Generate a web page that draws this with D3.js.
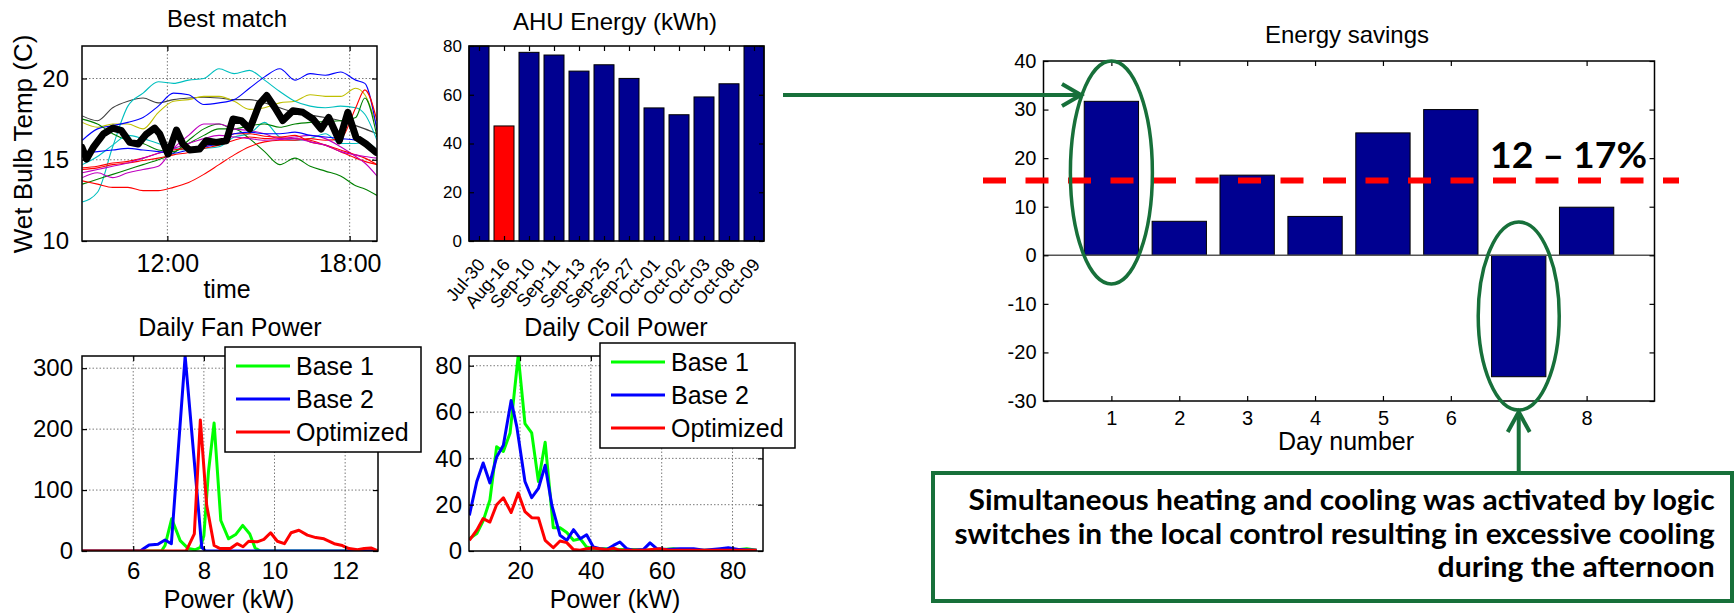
<!DOCTYPE html>
<html><head><meta charset="utf-8">
<script src="https://cdn.jsdelivr.net/npm/d3@7"></script>
<style>
body{margin:0;background:#fff;}
svg{display:block;}
</style></head><body>
<svg id="chart" width="1735" height="614"></svg>
<script>
// ---------------- DATA ----------------
// Panel 1: wet bulb temperature, candidate days (thin lines)
const wbHours   = [9.2, 9.7, 10.2, 10.7, 11.2, 11.7, 12.2, 12.7, 13.2, 13.7, 14.2, 14.7, 15.2, 15.7, 16.2, 16.7, 17.2, 17.7, 18.2, 18.5, 18.9];
const wbGray    = [17.7, 17.4, 18.2, 18.6, 18.8, 18.5, 18.7, 18.8, 18.85, 18.8, 18.7, 18.7, 18.5, 18.2, 17.9, 17.75, 17.6, 17.4, 17.1, 16.9, 16.6];
const wbYellow  = [17.3, 17.0, 17.2, 17.2, 16.9, 17.9, 18.6, 18.7, 18.9, 18.9, 18.6, 18.1, 18.2, 18.5, 18.6, 19.0, 18.9, 18.9, 19.4, 19.0, 17.0];
const wbBlue1   = [16.2, 16.9, 17.1, 17.3, 17.6, 18.3, 19.1, 19.0, 18.4, 18.5, 18.7, 19.4, 20.1, 20.6, 19.9, 20.3, 20.2, 20.4, 19.9, 19.7, 16.8];
const wbCyan1   = [12.4, 13.0, 15.8, 18.3, 19.1, 19.8, 19.7, 19.9, 20.0, 20.6, 20.3, 20.5, 19.9, 19.2, 18.6, 18.3, 18.2, 18.3, 18.2, 17.8, 16.2];
const wbCyan2   = [14.7, 15.2, 15.9, 16.5, 16.3, 16.0, 15.7, 15.6, 15.7, 15.8, 16.4, 16.6, 17.3, 16.4, 16.2, 16.3, 16.6, 16.0, 16.0, 16.1, 15.6];
const wbGreen1  = [17.5, 17.2, 16.6, 16.2, 16.0, 15.6, 15.5, 16.0, 16.5, 16.9, 16.9, 16.3, 15.5, 14.7, 15.1, 14.6, 14.3, 14.0, 13.4, 13.2, 12.8];
const wbGreen2  = [13.5, 13.8, 14.1, 14.4, 14.7, 15.0, 15.4, 16.2, 16.9, 17.2, 16.9, 17.1, 17.2, 17.0, 17.2, 17.3, 17.35, 17.4, 17.6, 18.8, 16.4];
const wbRed1    = [13.7, 13.5, 13.3, 13.3, 13.1, 13.1, 13.3, 13.6, 14.1, 14.7, 15.3, 15.8, 16.1, 16.2, 16.2, 16.3, 16.2, 16.3, 18.2, 19.3, 17.4];
const wbRed2    = [14.4, 14.5, 14.7, 14.8, 14.95, 15.1, 15.3, 15.45, 15.7, 15.9, 16.2, 16.4, 16.3, 16.35, 16.3, 16.2, 15.9, 15.5, 15.1, 14.9, 14.7];
const wbRed3    = [14.5, 14.6, 14.8, 14.9, 15.1, 15.4, 15.6, 15.7, 15.8, 16.1, 16.6, 16.6, 16.45, 16.4, 16.5, 16.1, 15.9, 15.6, 15.3, 15.1, 14.7];
const wbMagenta1= [13.9, 14.2, 13.9, 14.2, 14.4, 14.6, 15.7, 16.5, 17.2, 17.2, 16.9, 16.8, 16.6, 16.3, 16.4, 16.5, 16.3, 15.8, 15.2, 14.8, 14.0];
const wbMagenta2= [14.2, 14.4, 14.6, 14.8, 15.1, 15.4, 15.7, 16.0, 16.3, 16.5, 16.4, 16.3, 16.2, 16.25, 16.3, 16.1, 15.9, 15.5, 15.3, 15.2, 15.1];
const wbBlue2   = [15.4, 15.5, 15.6, 15.7, 15.6, 15.5, 15.4, 15.6, 15.8, 16.0, 16.6, 16.7, 16.6, 16.6, 16.7, 16.5, 16.4, 16.3, 16.2, 15.9, 15.6];
// Panel 1: best match (thick black)
const bestHours = [9.19, 9.34, 9.56, 9.89, 10.21, 10.49, 10.76, 11.04, 11.31, 11.58, 11.75, 12.02, 12.30, 12.51, 12.73, 13.06, 13.28, 13.61, 13.94, 14.16, 14.43, 14.71, 15.03, 15.27, 15.53, 15.80, 16.13, 16.46, 16.79, 17.06, 17.31, 17.66, 17.94, 18.21, 18.54, 18.87];
const bestTemp  = [15.76, 15.04, 15.76, 16.58, 16.95, 16.79, 16.07, 15.97, 16.58, 16.95, 16.58, 15.35, 16.83, 15.97, 15.60, 15.66, 16.17, 16.07, 16.17, 17.51, 17.41, 16.89, 18.44, 18.95, 18.23, 17.41, 18.02, 17.92, 17.51, 16.89, 17.61, 16.17, 17.92, 16.38, 15.97, 15.45];
const wbTimeTicks = [12, 18];
const wbTempTicks = [10, 15, 20];

// Panel 2: AHU energy
const ahuDates  = ["Jul-30","Aug-16","Sep-10","Sep-11","Sep-13","Sep-25","Sep-27","Oct-01","Oct-02","Oct-03","Oct-08","Oct-09"];
const ahuEnergy = [80, 47.2, 77.4, 76.3, 69.7, 72.3, 66.7, 54.6, 51.8, 59.1, 64.5, 80];
const ahuHighlight = "Aug-16";
const ahuTicks  = [0, 20, 40, 60, 80];

// Panel 3: daily fan power histogram
const fanBase1Kw = [4.55, 6.8, 6.9, 7.09, 7.33, 7.56, 7.75, 7.9, 8.0, 8.13, 8.29, 8.48, 8.7, 8.9, 9.1, 9.3, 9.45, 9.6, 12.93];
const fanBase1   = [0, 0, 9, 53, 17, 4, 2, 6, 25, 130, 210, 50, 20, 27, 42, 28, 5, 0, 0];
const fanBase2Kw = [4.55, 6.2, 6.3, 6.45, 6.7, 6.9, 7.08, 7.47, 7.8, 7.94, 8.05, 12.93];
const fanBase2   = [0, 0, 4, 10, 11, 18, 12, 320, 100, 6, 0, 0];
const fanOptKw   = [4.55, 7.5, 7.73, 7.9, 8.08, 8.29, 8.46, 8.75, 8.94, 9.11, 9.27, 9.51, 9.7, 9.89, 10.08, 10.28, 10.47, 10.69, 10.93, 11.17, 11.4, 11.69, 11.92, 12.11, 12.35, 12.54, 12.73, 12.93];
const fanOpt     = [0, 0, 28, 215, 75, 9, 4, 4, 12, 7, 16, 15, 19, 30, 16, 12, 30, 34, 26, 22, 20, 12, 9, 4, 2, 4, 5, 0];
const fanKwTicks = [6, 8, 10, 12];
const fanCountTicks = [0, 100, 200, 300];

// Panel 4: daily coil power histogram
const coilBase1Kw = [5.7, 7.8, 9.6, 11.5, 13.4, 15.3, 17.2, 19.5, 21.4, 23.3, 25.2, 27.1, 29.4, 31.3, 33.2, 35.1, 37, 38.8, 40.7, 44.5, 48.2, 52, 55.8, 60.5, 63.3, 67, 74.6, 82.1, 84, 86.8];
const coilBase1   = [5.3, 7.5, 13, 22, 45, 43, 51, 84.5, 55, 51, 30, 47, 10, 10, 8, 4.6, 5.3, 1.7, 1, 1, 0.6, 0.6, 0.3, 0.6, 1, 0.3, 0.3, 0.6, 1, 0.3];
const coilBase2Kw = [5.7, 7.8, 9.6, 11.5, 13.4, 15.3, 17.5, 19.1, 21.4, 23.3, 25.2, 27.1, 29, 31.3, 33.2, 35.1, 37, 38.8, 40.7, 42.6, 44.5, 46.4, 48.2, 50.1, 52, 54.8, 56.7, 58.6, 61.4, 65.2, 69, 72, 76.5, 78.8, 82, 86.8];
const coilBase2   = [15.4, 30, 38, 29.4, 40.6, 45.7, 65, 53.6, 30, 23, 27, 37, 19.7, 6.8, 4.6, 9.2, 5.3, 7, 1.7, 1, 0.6, 2.4, 3.9, 1, 0.3, 0.6, 3.5, 1, 0.6, 1, 1, 0.3, 1, 1.4, 0.6, 0.3];
const coilOptKw   = [5.7, 7.8, 9.6, 11.5, 13.4, 15.3, 17.5, 19.5, 21.4, 23.3, 25.2, 27.1, 29.4, 31.3, 33.2, 35.1, 37, 38.8, 40.7, 44.5, 46.4, 48.2, 55, 59.5, 62, 70, 80, 86.8];
const coilOpt     = [4.6, 9, 14, 12.5, 20, 23, 16.6, 25, 17, 14.4, 14.3, 4.6, 1.4, 4.3, 3.6, 0.6, 0.3, 1, 1.3, 0.5, 1.2, 0.3, 0.3, 1, 0.3, 0.3, 0.3, 0.3];
const coilKwTicks = [20, 40, 60, 80];
const coilCountTicks = [0, 20, 40, 60, 80];
const legendNames = ["Base 1", "Base 2", "Optimized"];

// Panel 5: energy savings
const dayNumbers = [1, 2, 3, 4, 5, 6, 7, 8];
const savings    = [31.7, 7.0, 16.5, 8.0, 25.2, 30.0, -25.0, 9.9];
const savingsAvg = 15.4;
const dayTicks   = [1, 2, 3, 4, 5, 6, 8];
const savingsTicks = [-30, -20, -10, 0, 10, 20, 30, 40];
const rangeLabel = "12 \u2013 17%";
const noteLines = ["Simultaneous heating and cooling was activated by logic",
                   "switches in the local control resulting in excessive cooling",
                   "during the afternoon"];

// ---------------- DRAWING ----------------
const FONT = '"Liberation Sans", Arial, Helvetica, sans-serif';
const GREEN = "#17703a";
const svg = d3.select("#chart");
svg.append("rect").attr("width", 1735).attr("height", 614).attr("fill", "#fff");
const defs = svg.append("defs");
defs.append("filter").attr("id", "blur").append("feGaussianBlur").attr("stdDeviation", 1.6);

function clip(id, x, y) {
  defs.append("clipPath").attr("id", id).append("rect")
    .attr("x", x.range()[0]).attr("y", y.range()[1])
    .attr("width", x.range()[1] - x.range()[0]).attr("height", y.range()[0] - y.range()[1]);
}
function grid(g, x, y, xt, yt) {
  const [x0, x1] = x.range(), [y0, y1] = y.range();
  const gg = g.append("g").attr("stroke", "#7a7a7a").attr("stroke-width", 1).attr("stroke-dasharray", "1.5,2");
  gg.selectAll("line.gx").data(xt).join("line").attr("class", "gx")
    .attr("x1", d => x(d)).attr("x2", d => x(d)).attr("y1", y0).attr("y2", y1);
  gg.selectAll("line.gy").data(yt).join("line").attr("class", "gy")
    .attr("x1", x0).attr("x2", x1).attr("y1", d => y(d)).attr("y2", d => y(d));
}
function axes(g, x, y, o) {
  const [x0, x1] = x.range(), [y0, y1] = y.range();
  const b = g.append("g").attr("transform", `translate(0,${y0})`)
    .call(d3.axisBottom(x).tickValues(o.xTicks).tickFormat(o.xFmt || (d => d)).tickSizeInner(-5).tickSizeOuter(0).tickPadding(o.xPad || 8));
  const t = g.append("g").attr("transform", `translate(0,${y1})`)
    .call(d3.axisTop(x).tickValues(o.xTicks).tickFormat("").tickSizeInner(-5).tickSizeOuter(0));
  const l = g.append("g").attr("transform", `translate(${x0},0)`)
    .call(d3.axisLeft(y).tickValues(o.yTicks).tickFormat(o.yFmt || (d => d)).tickSizeInner(-5).tickSizeOuter(0).tickPadding(o.yPad));
  const r = g.append("g").attr("transform", `translate(${x1},0)`)
    .call(d3.axisRight(y).tickValues(o.yTicks).tickFormat("").tickSizeInner(-5).tickSizeOuter(0));
  [b, t, l, r].forEach(a => {
    a.select(".domain").remove();
    a.selectAll("line").attr("stroke", "#000").attr("stroke-width", 1.2);
    a.selectAll("text").attr("font-family", FONT).attr("fill", "#000");
  });
  b.selectAll("text").attr("font-size", o.xfs || o.fs);
  l.selectAll("text").attr("font-size", o.fs);
  if (o.noXLabels) b.selectAll("text").remove();
  g.append("rect").attr("x", x0).attr("y", y1).attr("width", x1 - x0).attr("height", y0 - y1)
    .attr("fill", "none").attr("stroke", "#000").attr("stroke-width", 1.5);
}
function label(g, txt, x, y, fs, opts = {}) {
  const t = g.append("text").attr("x", x).attr("y", y).attr("font-size", fs)
    .attr("font-family", opts.family || FONT).attr("text-anchor", opts.anchor || "middle")
    .attr("fill", "#000").text(txt);
  if (opts.weight) t.attr("font-weight", opts.weight);
  if (opts.rotate) t.attr("transform", `rotate(${opts.rotate},${x},${y})`);
  return t;
}

// ---- Panel 1: Best match ----
{
  const g = svg.append("g");
  const x = d3.scaleLinear().domain([9.19, 18.9]).range([82, 377]);
  const y = d3.scaleLinear().domain([10, 22]).range([241, 46]);
  clip("c1", x, y);
  grid(g, x, y, wbTimeTicks, [15, 20]);
  const lines = [[wbGray, "#404040"], [wbYellow, "#bfbf00"], [wbCyan1, "#00bfbf"], [wbBlue1, "#0000ff"],
                 [wbGreen1, "#008000"], [wbCyan2, "#00bfbf"], [wbGreen2, "#008000"], [wbRed1, "#ff0000"],
                 [wbRed2, "#ff0000"], [wbMagenta1, "#bf00bf"], [wbRed3, "#ff0000"], [wbMagenta2, "#bf00bf"],
                 [wbBlue2, "#0000ff"]];
  const line = d3.line().x((d, i) => x(wbHours[i])).y(d => y(d)).curve(d3.curveMonotoneX);
  const lg = g.append("g").attr("clip-path", "url(#c1)");
  lg.selectAll("path.thin").data(lines).join("path").attr("class", "thin")
    .attr("d", d => line(d[0])).attr("fill", "none").attr("stroke", d => d[1]).attr("stroke-width", 1.1);
  const bl = d3.line().x((d, i) => x(bestHours[i])).y(d => y(d));
  lg.append("path").attr("d", bl(bestTemp)).attr("fill", "none").attr("stroke", "#000")
    .attr("stroke-width", 7).attr("stroke-linejoin", "round").attr("stroke-linecap", "round");
  axes(g, x, y, {xTicks: wbTimeTicks, yTicks: wbTempTicks, xFmt: d => d + ":00", fs: 24, xfs: 25, xPad: 13, yPad: 13});
  label(g, "Best match", 227, 27, 24);
  label(g, "time", 227, 298, 25);
  label(g, "Wet Bulb Temp (C)", 32, 144, 26, {rotate: -90});
}

// ---- Panel 2: AHU Energy ----
{
  const g = svg.append("g");
  const x = d3.scaleLinear().domain([0.6, 12.4]).range([469, 764]);
  const y = d3.scaleLinear().domain([0, 80]).range([241, 46]);
  g.selectAll("rect.bar").data(ahuEnergy).join("rect").attr("class", "bar")
    .attr("x", (d, i) => x(i + 1 - 0.4)).attr("width", x(1.4) - x(0.6))
    .attr("y", d => y(d)).attr("height", d => y(0) - y(d))
    .attr("fill", (d, i) => ahuDates[i] === ahuHighlight ? "#ff0000" : "#000090")
    .attr("stroke", "#000").attr("stroke-width", 1);
  axes(g, x, y, {xTicks: d3.range(1, 13), yTicks: ahuTicks, fs: 17, yPad: 7, noXLabels: true});
  g.selectAll("text.date").data(ahuDates).join("text").attr("class", "date")
    .attr("transform", (d, i) => `translate(${x(i + 1) + 2},261) rotate(-50)`)
    .attr("text-anchor", "end").attr("dy", "0.35em").attr("font-size", 18)
    .attr("font-family", FONT).text(d => d);
  label(g, "AHU Energy (kWh)", 615, 30, 24);
}

// ---- Panels 3 & 4: histograms ----
function histPanel(x, y, id, series, xt, yt, title, legendBox) {
  const g = svg.append("g");
  clip(id, x, y);
  grid(g, x, y, xt, yt.filter(v => v > 0));
  const lg = g.append("g").attr("clip-path", `url(#${id})`);
  const colors = ["#00ff00", "#0000ff", "#ff0000"];
  series.forEach((s, k) => {
    const ln = d3.line().x((d, i) => x(s[0][i])).y(d => y(d));
    lg.append("path").attr("d", ln(s[1])).attr("fill", "none").attr("stroke", colors[k])
      .attr("stroke-width", 3).attr("stroke-linejoin", "round");
  });
  axes(g, x, y, {xTicks: xt, yTicks: yt, fs: 24, xPad: 11, yPad: legendBox.yPad});
  label(g, title, (x.range()[0] + x.range()[1]) / 2, 336, 25);
  label(g, "Power (kW)", (x.range()[0] + x.range()[1]) / 2 - 1, 608, 25);
  const L = legendBox;
  g.append("rect").attr("x", L.x).attr("y", L.y).attr("width", L.w).attr("height", L.h)
    .attr("fill", "#fff").attr("stroke", "#000").attr("stroke-width", 1.5);
  legendNames.forEach((n, k) => {
    const yy = L.y + 19 + k * 33;
    g.append("line").attr("x1", L.x + 11).attr("x2", L.x + 65).attr("y1", yy).attr("y2", yy)
      .attr("stroke", colors[k]).attr("stroke-width", 3);
    g.append("text").attr("x", L.x + 71).attr("y", yy).attr("dy", "0.36em").attr("font-size", 25)
      .attr("font-family", FONT).text(n);
  });
}
histPanel(d3.scaleLinear().domain([4.55, 12.93]).range([82, 378]), d3.scaleLinear().domain([0, 320]).range([551, 356]), "c3",
  [[fanBase1Kw, fanBase1], [fanBase2Kw, fanBase2], [fanOptKw, fanOpt]], fanKwTicks, fanCountTicks, "Daily Fan Power",
  {x: 225, y: 347, w: 196, h: 105, yPad: 9});
histPanel(d3.scaleLinear().domain([5.6, 88.6]).range([469, 763]), d3.scaleLinear().domain([0, 84.2]).range([551, 356]), "c4",
  [[coilBase1Kw, coilBase1], [coilBase2Kw, coilBase2], [coilOptKw, coilOpt]], coilKwTicks, coilCountTicks, "Daily Coil Power",
  {x: 600, y: 343, w: 195, h: 105, yPad: 7});

// ---- Panel 5: Energy savings ----
{
  const g = svg.append("g");
  const x = d3.scaleLinear().domain([0, 9]).range([1043.5, 1654.5]);
  const y = d3.scaleLinear().domain([-30, 40]).range([401, 61]);
  g.selectAll("rect.bar").data(savings).join("rect").attr("class", "bar")
    .attr("x", (d, i) => x(dayNumbers[i] - 0.4)).attr("width", x(0.8) - x(0))
    .attr("y", d => y(Math.max(d, 0))).attr("height", d => Math.abs(y(d) - y(0)))
    .attr("fill", "#000090").attr("stroke", "#000").attr("stroke-width", 1);
  g.append("line").attr("x1", x(0)).attr("x2", x(9)).attr("y1", y(0)).attr("y2", y(0))
    .attr("stroke", "#555").attr("stroke-width", 1.5);
  axes(g, x, y, {xTicks: dayTicks, yTicks: savingsTicks, fs: 20, xPad: 10, yPad: 7});
  label(g, "Energy savings", 1347, 43, 24);
  label(g, "Day number", 1346, 450, 25);
  // average dashed line with shadow
  const ya = y(savingsAvg);
  g.append("line").attr("x1", 983).attr("x2", 1679).attr("y1", ya + 5).attr("y2", ya + 5)
    .attr("stroke", "#9a9a9a").attr("stroke-width", 6).attr("stroke-dasharray", "23,19.5")
    .attr("filter", "url(#blur)").attr("opacity", 0.8);
  g.append("line").attr("x1", 983).attr("x2", 1679).attr("y1", ya).attr("y2", ya)
    .attr("stroke", "#ff0000").attr("stroke-width", 6).attr("stroke-dasharray", "23,19.5");
  g.append("text").attr("x", 1490).attr("y", 168).attr("font-size", 37).attr("font-weight", 700)
    .attr("font-family", "Lato, 'Liberation Sans', sans-serif").attr("textLength", 157)
    .attr("lengthAdjust", "spacingAndGlyphs").text(rangeLabel);
  // annotations
  const ann = svg.append("g").attr("fill", "none").attr("stroke", GREEN);
  ann.append("ellipse").attr("cx", x(1)).attr("cy", 172.5).attr("rx", 41).attr("ry", 111.5).attr("stroke-width", 3.5);
  ann.append("ellipse").attr("cx", x(7)).attr("cy", 316).attr("rx", 40.5).attr("ry", 94).attr("stroke-width", 3.5);
  ann.append("line").attr("x1", 783).attr("x2", 1080).attr("y1", 95).attr("y2", 95).attr("stroke-width", 4);
  ann.append("polyline").attr("points", "1062,84 1081,95 1062,106").attr("stroke-width", 4);
  ann.append("line").attr("x1", x(7)).attr("x2", x(7)).attr("y1", 472).attr("y2", 413).attr("stroke-width", 4);
  ann.append("polyline").attr("points", `${x(7) - 11},432 ${x(7)},412 ${x(7) + 11},432`).attr("stroke-width", 4);
  svg.append("rect").attr("x", 933).attr("y", 473).attr("width", 799).attr("height", 128)
    .attr("fill", "#fff").attr("stroke", GREEN).attr("stroke-width", 4);
  const noteStarts = [968.6, 954.5, 1437.6];
  const noteBase = [510, 544, 577];
  noteLines.forEach((t, i) => {
    svg.append("text").attr("x", noteStarts[i]).attr("y", noteBase[i]).attr("font-size", 28)
      .attr("font-weight", 700).attr("font-family", "Lato, 'Open Sans', sans-serif")
      .attr("textLength", 1714.7 - noteStarts[i]).attr("lengthAdjust", "spacingAndGlyphs").text(t);
  });
}
</script>
</body></html>
